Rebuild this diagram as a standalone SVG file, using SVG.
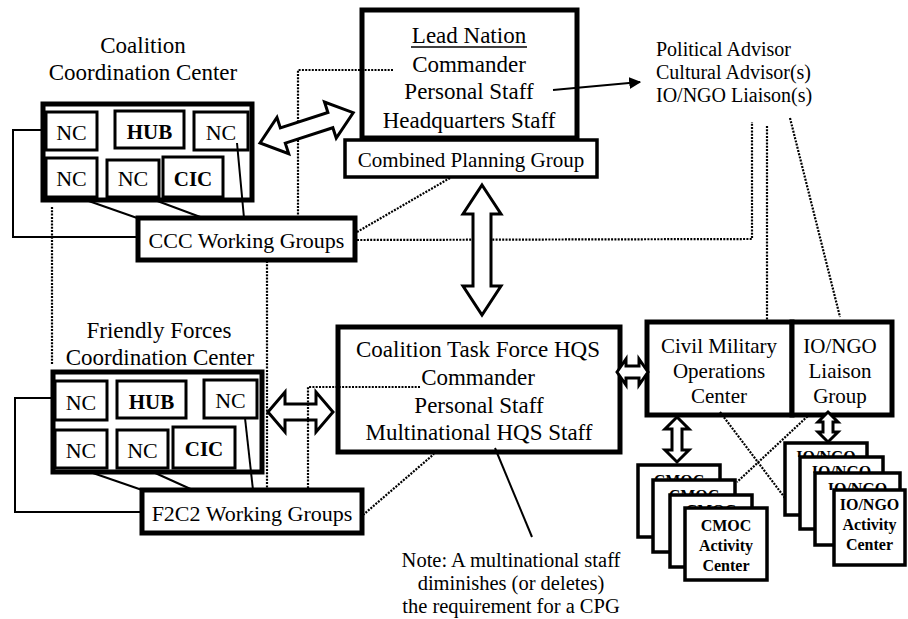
<svg xmlns="http://www.w3.org/2000/svg" width="908" height="619" viewBox="0 0 908 619">
<style>
.t{font-family:"Liberation Serif","Times New Roman",serif;fill:#000;text-anchor:middle}
.l{text-anchor:start}
.b{font-weight:bold}
.box{fill:#fff;stroke:#000;stroke-width:5}
.mid{fill:#fff;stroke:#000;stroke-width:3.5}
.cell{fill:#fff;stroke:#000;stroke-width:3}
.card{fill:#fff;stroke:#000;stroke-width:3.5}
.ln{fill:none;stroke:#000;stroke-width:2}
.dot{fill:none;stroke:#000;stroke-width:2.2;stroke-dasharray:2 1.3}
.arr{fill:#fff;stroke:#000;stroke-width:3;stroke-linejoin:miter}
</style>
<defs>
<marker id="ah" viewBox="0 0 10 10" refX="9" refY="5" markerWidth="6" markerHeight="6" markerUnits="strokeWidth" orient="auto">
<path d="M0,0 L10,5 L0,10 z" fill="#000"/>
</marker>
<clipPath id="c1"><rect x="638" y="465" width="82" height="15"/></clipPath>
<clipPath id="c2"><rect x="653" y="480" width="82" height="15"/></clipPath>
<clipPath id="c3"><rect x="670" y="495" width="82" height="13"/></clipPath>
<clipPath id="i1"><rect x="785" y="443" width="82" height="14"/></clipPath>
<clipPath id="i2"><rect x="800" y="457" width="83" height="16"/></clipPath>
<clipPath id="i3"><rect x="815" y="473" width="85" height="17"/></clipPath>
</defs>
<rect width="908" height="619" fill="#fff"/>

<g id="ccc">
<text class="t" x="143" y="53" font-size="23">Coalition</text>
<text class="t" x="143" y="80" font-size="23">Coordination Center</text>
<rect class="box" x="43" y="104" width="209" height="96"/>
<rect class="cell" x="46" y="112" width="51" height="38"/>
<rect class="cell" x="115" y="111" width="69" height="37"/>
<rect class="cell" x="194" y="112" width="54" height="38"/>
<rect class="cell" x="46" y="158" width="51" height="39"/>
<rect class="cell" x="107" y="160" width="52" height="37"/>
<rect class="cell" x="163" y="157" width="60" height="40"/>
<text class="t" x="71.5" y="140" font-size="22">NC</text>
<text class="t b" x="149.5" y="139" font-size="21">HUB</text>
<text class="t" x="221" y="140" font-size="22">NC</text>
<text class="t" x="71.5" y="186" font-size="22">NC</text>
<text class="t" x="133" y="186" font-size="22">NC</text>
<text class="t b" x="193" y="186" font-size="21">CIC</text>
</g>

<g id="ccc-wg">
<rect class="box" x="138" y="218" width="217" height="42" stroke-width="4"/>
<text class="t" x="246.5" y="248" font-size="22">CCC Working Groups</text>
</g>

<g id="lead-nation">
<rect class="box" x="362" y="10" width="215" height="128"/>
<text class="t" x="469" y="43" font-size="23">Lead Nation</text>
<line x1="411" y1="47" x2="527" y2="47" stroke="#000" stroke-width="1.5"/>
<text class="t" x="469" y="72" font-size="23">Commander</text>
<text class="t" x="469" y="99" font-size="23">Personal Staff</text>
<text class="t" x="469" y="128" font-size="23">Headquarters Staff</text>
</g>

<g id="cpg">
<rect class="mid" x="345" y="140" width="252" height="37"/>
<text class="t" x="471" y="167" font-size="21">Combined Planning Group</text>
</g>

<g id="advisors">
<text class="t l" x="656" y="56" font-size="20">Political Advisor</text>
<text class="t l" x="656" y="79" font-size="20">Cultural Advisor(s)</text>
<text class="t l" x="656" y="102" font-size="20">IO/NGO Liaison(s)</text>
</g>

<g id="f2c2">
<text class="t" x="159" y="338" font-size="23">Friendly Forces</text>
<text class="t" x="160" y="365" font-size="23">Coordination Center</text>
<rect class="box" x="53" y="372" width="209" height="100"/>
<rect class="cell" x="55" y="381" width="52" height="39"/>
<rect class="cell" x="117" y="381" width="69" height="37"/>
<rect class="cell" x="204" y="380" width="53" height="38"/>
<rect class="cell" x="55" y="430" width="52" height="38"/>
<rect class="cell" x="117" y="430" width="51" height="38"/>
<rect class="cell" x="173" y="427" width="62" height="41"/>
<text class="t" x="81" y="410" font-size="22">NC</text>
<text class="t b" x="151.5" y="409" font-size="21">HUB</text>
<text class="t" x="230.5" y="408" font-size="22">NC</text>
<text class="t" x="81" y="458" font-size="22">NC</text>
<text class="t" x="142.5" y="458" font-size="22">NC</text>
<text class="t b" x="204" y="456" font-size="21">CIC</text>
</g>

<g id="f2c2-wg">
<rect class="box" x="142" y="490" width="220" height="43" stroke-width="4"/>
<text class="t" x="252" y="521" font-size="22">F2C2 Working Groups</text>
</g>

<g id="ctf-hqs">
<rect class="box" x="338" y="327" width="282" height="125"/>
<text class="t" x="478" y="357" font-size="23">Coalition Task Force HQS</text>
<text class="t" x="478" y="385" font-size="23">Commander</text>
<text class="t" x="479" y="413" font-size="23">Personal Staff</text>
<text class="t" x="479" y="440" font-size="23">Multinational HQS Staff</text>
</g>

<g id="cmoc">
<rect class="box" x="647" y="322" width="145" height="93"/>
<text class="t" x="719" y="353" font-size="21">Civil Military</text>
<text class="t" x="719" y="378" font-size="21">Operations</text>
<text class="t" x="719" y="403" font-size="21">Center</text>
</g>

<g id="iongo-liaison">
<rect class="box" x="792" y="322" width="100" height="93"/>
<text class="t" x="840" y="353" font-size="21">IO/NGO</text>
<text class="t" x="840" y="378" font-size="21">Liaison</text>
<text class="t" x="840" y="403" font-size="21">Group</text>
</g>

<g id="note">
<text class="t" x="511" y="567" font-size="20.5">Note: A multinational staff</text>
<text class="t" x="511" y="590" font-size="20.5">diminishes (or deletes)</text>
<text class="t" x="511" y="613" font-size="20.5">the requirement for a CPG</text>
</g>

<g id="connectors">
<polyline class="ln" points="43,130 13,130 13,237 138,237"/>
<line class="ln" x1="83" y1="199" x2="140" y2="219"/>
<line class="ln" x1="152" y1="199" x2="203" y2="218"/>
<line class="ln" x1="237" y1="143" x2="244" y2="218"/>
<polyline class="ln" points="53,398 15,398 15,512 142,512"/>
<line class="ln" x1="90" y1="472" x2="145" y2="491"/>
<line class="ln" x1="153" y1="472" x2="195" y2="491"/>
<line class="ln" x1="245" y1="418" x2="253" y2="490"/>
<line class="ln" x1="495" y1="448" x2="532" y2="537"/>
<line class="ln" x1="553" y1="90" x2="640" y2="82" stroke-width="3" marker-end="url(#ah)"/>

<line class="dot" x1="52" y1="207" x2="52" y2="365"/>
<polyline class="dot" points="393,70 298,70 298,217"/>
<line class="dot" x1="267" y1="261" x2="267" y2="489"/>
<line class="dot" x1="450" y1="178" x2="357" y2="232"/>
<polyline class="dot" points="357,240 752,239 752,122"/>
<line class="dot" x1="767" y1="126" x2="767" y2="320"/>
<line class="dot" x1="790" y1="118" x2="840" y2="317"/>
<line class="dot" x1="363" y1="515" x2="434" y2="454"/>
<line class="dot" x1="720" y1="412" x2="785" y2="498"/>
<line class="dot" x1="810" y1="414" x2="737" y2="482"/>

<polygon class="arr" transform="translate(260,143) rotate(-18)" points="0,0 24,-19 24,-8 74,-8 74,-19 98,0 74,19 74,8 24,8 24,19"/>
<polygon class="arr" transform="translate(482,185) rotate(90)" points="0,0 29,-19 29,-9 101,-9 101,-19 130,0 101,19 101,9 29,9 29,19"/>
<polygon class="arr" transform="translate(268,412)" points="0,0 17,-20 17,-8 48,-8 48,-20 65,0 48,20 48,8 17,8 17,20"/>
<polygon class="arr" transform="translate(617,372)" points="0,0 9,-13 9,-6 22,-6 22,-13 31,0 22,13 22,6 9,6 9,13" stroke-width="2.5"/>
<polygon class="arr" transform="translate(677,417) rotate(90)" points="0,0 12,-12 12,-5 33,-5 33,-12 45,0 33,12 33,5 12,5 12,12" stroke-width="2.5"/>
<polygon class="arr" transform="translate(828,412) rotate(90)" points="0,0 10,-10 10,-5 20,-5 20,-10 30,0 20,10 20,5 10,5 10,10" stroke-width="2.5"/>
<polyline class="dot" points="420,387 308,387 308,489"/>
</g>

<g id="cmoc-activity">
<rect class="card" x="638" y="465" width="82" height="72"/>
<text class="t b" x="679" y="486" font-size="16" clip-path="url(#c1)">CMOC</text>
<rect class="card" x="653" y="480" width="82" height="72"/>
<text class="t b" x="694" y="501" font-size="16" clip-path="url(#c2)">CMOC</text>
<rect class="card" x="670" y="495" width="82" height="72"/>
<text class="t b" x="711" y="516" font-size="16" clip-path="url(#c3)">CMOC</text>
<rect class="card" x="685" y="508" width="82" height="72"/>
<text class="t b" x="726" y="531" font-size="16">CMOC</text>
<text class="t b" x="726" y="551" font-size="16">Activity</text>
<text class="t b" x="726" y="571" font-size="16">Center</text>
</g>

<g id="iongo-activity">
<rect class="card" x="785" y="443" width="82" height="72"/>
<text class="t b" x="826" y="462" font-size="16" clip-path="url(#i1)">IO/NGO</text>
<rect class="card" x="800" y="457" width="83" height="72"/>
<text class="t b" x="841.5" y="477" font-size="16" clip-path="url(#i2)">IO/NGO</text>
<rect class="card" x="815" y="473" width="85" height="72"/>
<text class="t b" x="857.5" y="494" font-size="16" clip-path="url(#i3)">IO/NGO</text>
<rect class="card" x="834" y="490" width="71" height="75"/>
<text class="t b" x="869.5" y="510" font-size="16">IO/NGO</text>
<text class="t b" x="869.5" y="530" font-size="16">Activity</text>
<text class="t b" x="869.5" y="550" font-size="16">Center</text>
</g>
</svg>
